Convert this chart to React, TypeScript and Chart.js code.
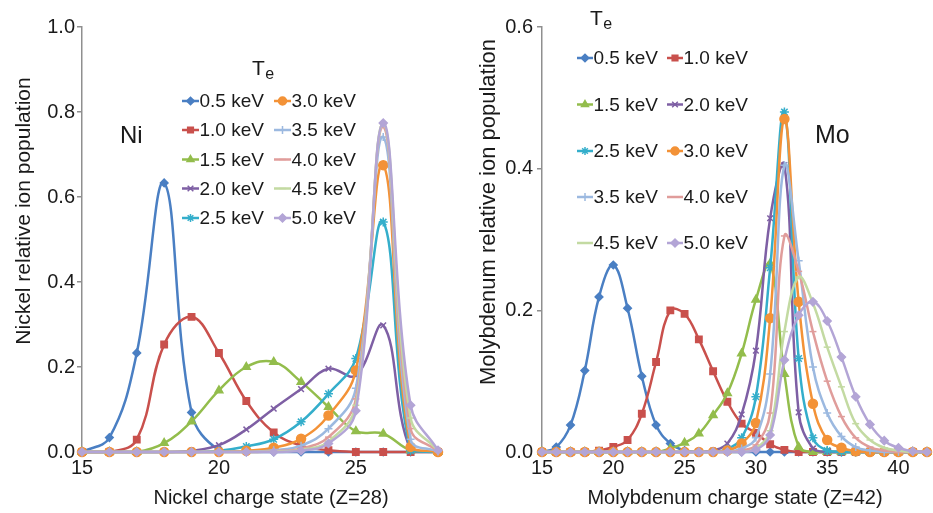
import React, { useEffect, useRef } from 'react';
import { Chart, registerables } from 'chart.js';
import { drawPoint } from 'chart.js/helpers';

Chart.register(...registerables);

const FONT = '"Liberation Sans", Arial, Helvetica, sans-serif';
const TEXT = '#1a1a1a';
const AXIS = '#8f8f8f';

const temperatures = ['0.5 keV', '1.0 keV', '1.5 keV', '2.0 keV', '2.5 keV', '3.0 keV', '3.5 keV', '4.0 keV', '4.5 keV', '5.0 keV'];
const seriesColors = ['#4a7fc3', '#c9504c', '#93bd4c', '#7e5fa4', '#34aecb', '#f39237', '#9cb9e0', '#e09d9b', '#c3daa2', '#b3a5d6'];
const markerStyles = ['rectRot', 'rect', 'triangle', 'crossRot', 'star', 'circle', 'cross', 'line', 'line', 'rectRot'];
const markerRadius = [3.8, 4.5, 4.5, 4, 4.5, 4.5, 4, 3.5, 3.5, 4];

// Nickel: charge states 15..28
const niCharge = [15, 16, 17, 18, 19, 20, 21, 22, 23, 24, 25, 26, 27, 28];
const ni05 = [0, 0.034, 0.233, 0.633, 0.093, 0.004, 0, 0, 0, 0, 0, 0, 0, 0];
const ni10 = [0, 0, 0.029, 0.253, 0.318, 0.233, 0.12, 0.046, 0.015, 0.004, 0, 0, 0, 0];
const ni15 = [0, 0, 0, 0.021, 0.072, 0.145, 0.2, 0.212, 0.165, 0.106, 0.049, 0.043, 0.004, 0];
const ni20 = [0, 0, 0, 0, 0.003, 0.016, 0.053, 0.102, 0.148, 0.196, 0.18, 0.298, 0.005, 0];
const ni25 = [0, 0, 0, 0, 0, 0.003, 0.013, 0.03, 0.071, 0.137, 0.22, 0.541, 0.003, 0];
const ni30 = [0, 0, 0, 0, 0, 0, 0.003, 0.01, 0.031, 0.086, 0.192, 0.675, 0.012, 0];
const ni35 = [0, 0, 0, 0, 0, 0, 0, 0.004, 0.015, 0.055, 0.15, 0.741, 0.03, 0.001];
const ni40 = [0, 0, 0, 0, 0, 0, 0, 0.002, 0.008, 0.035, 0.125, 0.765, 0.055, 0.002];
const ni45 = [0, 0, 0, 0, 0, 0, 0, 0.001, 0.005, 0.025, 0.11, 0.772, 0.08, 0.003];
const ni50 = [0, 0, 0, 0, 0, 0, 0, 0, 0.003, 0.02, 0.097, 0.774, 0.11, 0.004];

// Molybdenum: charge states 15..42
const moCharge = [15, 16, 17, 18, 19, 20, 21, 22, 23, 24, 25, 26, 27, 28, 29, 30, 31, 32, 33, 34, 35, 36, 37, 38, 39, 40, 41, 42];
const mo05 = [0, 0.007, 0.038, 0.115, 0.219, 0.264, 0.203, 0.107, 0.038, 0.012, 0.002, 0, 0, 0, 0, 0, 0, 0, 0, 0, 0, 0, 0, 0, 0, 0, 0, 0];
const mo10 = [0, 0, 0, 0, 0.002, 0.007, 0.017, 0.054, 0.127, 0.2, 0.195, 0.159, 0.114, 0.071, 0.04, 0.027, 0.011, 0.003, 0, 0, 0, 0, 0, 0, 0, 0, 0, 0];
const mo15 = [0, 0, 0, 0, 0, 0, 0, 0, 0, 0.005, 0.013, 0.026, 0.052, 0.083, 0.139, 0.215, 0.266, 0.11, 0.007, 0, 0, 0, 0, 0, 0, 0, 0, 0];
const mo20 = [0, 0, 0, 0, 0, 0, 0, 0, 0, 0, 0, 0, 0.002, 0.012, 0.053, 0.143, 0.33, 0.405, 0.056, 0.005, 0, 0, 0, 0, 0, 0, 0, 0];
const mo25 = [0, 0, 0, 0, 0, 0, 0, 0, 0, 0, 0, 0, 0, 0.004, 0.02, 0.078, 0.26, 0.48, 0.132, 0.02, 0.002, 0, 0, 0, 0, 0, 0, 0];
const mo30 = [0, 0, 0, 0, 0, 0, 0, 0, 0, 0, 0, 0, 0, 0.002, 0.012, 0.041, 0.189, 0.47, 0.212, 0.068, 0.017, 0.006, 0.001, 0, 0, 0, 0, 0];
const mo35 = [0, 0, 0, 0, 0, 0, 0, 0, 0, 0, 0, 0, 0, 0, 0.005, 0.02, 0.11, 0.405, 0.27, 0.12, 0.055, 0.022, 0.007, 0.002, 0, 0, 0, 0];
const mo40 = [0, 0, 0, 0, 0, 0, 0, 0, 0, 0, 0, 0, 0, 0, 0.002, 0.01, 0.055, 0.305, 0.255, 0.17, 0.1, 0.05, 0.02, 0.007, 0.002, 0, 0, 0];
const mo45 = [0, 0, 0, 0, 0, 0, 0, 0, 0, 0, 0, 0, 0, 0, 0, 0.005, 0.03, 0.17, 0.247, 0.21, 0.148, 0.092, 0.04, 0.017, 0.006, 0.002, 0, 0];
const mo50 = [0, 0, 0, 0, 0, 0, 0, 0, 0, 0, 0, 0, 0, 0, 0, 0.003, 0.024, 0.13, 0.193, 0.212, 0.185, 0.134, 0.078, 0.039, 0.016, 0.006, 0.001, 0];

const niSeries = [ni05, ni10, ni15, ni20, ni25, ni30, ni35, ni40, ni45, ni50];
const moSeries = [mo05, mo10, mo15, mo20, mo25, mo30, mo35, mo40, mo45, mo50];

function buildDatasets(xs: number[], series: number[][]) {
  return series.map((vals, i) => ({
    label: temperatures[i],
    data: vals.map((v, j) => ({ x: xs[j], y: v })),
    borderColor: seriesColors[i],
    backgroundColor: seriesColors[i],
    borderWidth: 2.5,
    pointStyle: markerStyles[i],
    pointRadius: markerRadius[i],
    pointBackgroundColor: seriesColors[i],
    pointBorderColor: seriesColors[i],
    pointBorderWidth: 1.5,
    tension: 0.4,
    clip: 10,
    order: 10 - i,
  }));
}

type AnnotCfg = {
  te: { x: number; y: number };
  legend: { cols: number[]; rows: number[]; sampleW: number; size: number; colMajor: boolean };
  label: { text: string; x: number; y: number; size: number };
  xTitle: { text: string; x: number; y: number };
  yTitle: { text: string; x: number; y: number; size: number };
};

function annotationPlugin(cfg: AnnotCfg) {
  return {
    id: 'annot',
    afterDraw(chart: any) {
      const ctx = chart.ctx as CanvasRenderingContext2D;
      ctx.save();
      ctx.fillStyle = TEXT;
      // T_e
      ctx.textBaseline = 'alphabetic';
      ctx.textAlign = 'left';
      ctx.font = `21px ${FONT}`;
      ctx.fillText('T', cfg.te.x, cfg.te.y);
      const tw = ctx.measureText('T').width;
      ctx.font = `16px ${FONT}`;
      ctx.fillText('e', cfg.te.x + tw + 0.5, cfg.te.y + 4);
      // element label
      ctx.font = `${cfg.label.size}px ${FONT}`;
      ctx.fillText(cfg.label.text, cfg.label.x, cfg.label.y);
      // x title
      ctx.font = `20px ${FONT}`;
      ctx.textAlign = 'center';
      ctx.fillText(cfg.xTitle.text, cfg.xTitle.x, cfg.xTitle.y);
      // y title (rotated)
      ctx.save();
      ctx.translate(cfg.yTitle.x, cfg.yTitle.y);
      ctx.rotate(-Math.PI / 2);
      ctx.textBaseline = 'middle';
      ctx.font = `${cfg.yTitle.size}px ${FONT}`;
      ctx.fillText(cfg.yTitle.text, 0, 0);
      ctx.restore();
      // legend
      const L = cfg.legend;
      const nRows = L.rows.length;
      chart.data.datasets.forEach((ds: any, i: number) => {
        const col = L.colMajor ? Math.floor(i / nRows) : i % 2;
        const row = L.colMajor ? i % nRows : Math.floor(i / 2);
        const x0 = L.cols[col];
        const y = L.rows[row];
        ctx.strokeStyle = ds.borderColor;
        ctx.lineWidth = 2.5;
        ctx.beginPath();
        ctx.moveTo(x0, y);
        ctx.lineTo(x0 + L.sampleW, y);
        ctx.stroke();
        ctx.fillStyle = ds.pointBackgroundColor;
        ctx.strokeStyle = ds.pointBorderColor;
        ctx.lineWidth = 1.5;
        drawPoint(ctx, { pointStyle: ds.pointStyle, radius: Math.min(ds.pointRadius, 4), rotation: 0, borderWidth: 1.5 }, x0 + L.sampleW / 2, y);
        ctx.fillStyle = TEXT;
        ctx.font = `${L.size}px ${FONT}`;
        ctx.textAlign = 'left';
        ctx.textBaseline = 'middle';
        ctx.fillText(ds.label, x0 + L.sampleW + 0.5, y + 1);
      });
      ctx.restore();
    },
  };
}

function makeOptions(opts: { xMax: number; yMax: number; yWidth: number; padRight: number; yTickPad: number }) {
  return {
    responsive: false,
    animation: false as const,
    devicePixelRatio: 1,
    layout: { padding: { top: 27, right: opts.padRight, bottom: 0, left: 0 } },
    plugins: { legend: { display: false }, tooltip: { enabled: false } },
    scales: {
      x: {
        type: 'linear' as const,
        min: 15,
        max: opts.xMax,
        ticks: { stepSize: 5, includeBounds: false, color: TEXT, font: { family: FONT, size: 20 }, padding: 4, maxRotation: 0 },
        grid: { display: false, drawTicks: false },
        border: { display: true, color: AXIS, width: 1.5 },
        afterFit: (s: any) => { s.height = 61; },
      },
      y: {
        type: 'linear' as const,
        min: 0,
        max: opts.yMax,
        ticks: {
          stepSize: 0.2,
          color: TEXT,
          font: { family: FONT, size: 20 },
          padding: opts.yTickPad,
          callback: (v: any) => Number(v).toFixed(1),
        },
        grid: { display: true, drawOnChartArea: false, drawTicks: true, tickLength: 5, color: AXIS, lineWidth: 1.5 },
        border: { display: true, color: AXIS, width: 1.5 },
        afterFit: (s: any) => { s.width = opts.yWidth; },
      },
    },
  };
}

function ChartCanvas(props: { left: number; width: number; build: (c: HTMLCanvasElement) => Chart }) {
  const ref = useRef<HTMLCanvasElement | null>(null);
  useEffect(() => {
    if (!ref.current) return;
    const chart = props.build(ref.current);
    return () => chart.destroy();
  }, []);
  return (
    <canvas
      ref={ref}
      width={props.width}
      height={513}
      style={{ position: 'absolute', left: props.left, top: 0, width: props.width, height: 513, display: 'block' }}
    />
  );
}

const LEFT_W = 466;
const RIGHT_X = 466;
const RIGHT_W = 467;

export default function App() {
  const buildNi = (canvas: HTMLCanvasElement) =>
    new Chart(canvas, {
      type: 'line',
      data: { datasets: buildDatasets(niCharge, niSeries) as any },
      options: makeOptions({ xMax: 28, yMax: 1.0, yWidth: 82, padRight: 28, yTickPad: 2 }) as any,
      plugins: [
        annotationPlugin({
          te: { x: 252, y: 75 },
          legend: { cols: [182, 274], rows: [101, 130, 159.5, 188.5, 218], sampleW: 17, size: 19, colMajor: true },
          label: { text: 'Ni', x: 120, y: 143, size: 24 },
          xTitle: { text: 'Nickel charge state (Z=28)', x: 271, y: 504 },
          yTitle: { text: 'Nickel relative ion population', x: 24, y: 211, size: 21 },
        }) as any,
      ],
    });

  const buildMo = (canvas: HTMLCanvasElement) =>
    new Chart(canvas, {
      type: 'line',
      data: { datasets: buildDatasets(moCharge, moSeries) as any },
      options: makeOptions({ xMax: 42, yMax: 0.6, yWidth: 76, padRight: 5, yTickPad: 4 }) as any,
      plugins: [
        annotationPlugin({
          te: { x: 590 - RIGHT_X, y: 25 },
          legend: { cols: [577 - RIGHT_X, 667 - RIGHT_X], rows: [58, 104.5, 151, 197, 243], sampleW: 16, size: 19, colMajor: false },
          label: { text: 'Mo', x: 815 - RIGHT_X, y: 143, size: 25 },
          xTitle: { text: 'Molybdenum charge state (Z=42)', x: 735 - RIGHT_X, y: 504 },
          yTitle: { text: 'Molybdenum relative ion population', x: 489 - RIGHT_X, y: 212, size: 22 },
        }) as any,
      ],
    });

  return (
    <div style={{ position: 'absolute', left: 0, top: 0, width: 933, height: 513, background: '#fff' }}>
      <ChartCanvas left={0} width={LEFT_W} build={buildNi} />
      <ChartCanvas left={RIGHT_X} width={RIGHT_W} build={buildMo} />
    </div>
  );
}
